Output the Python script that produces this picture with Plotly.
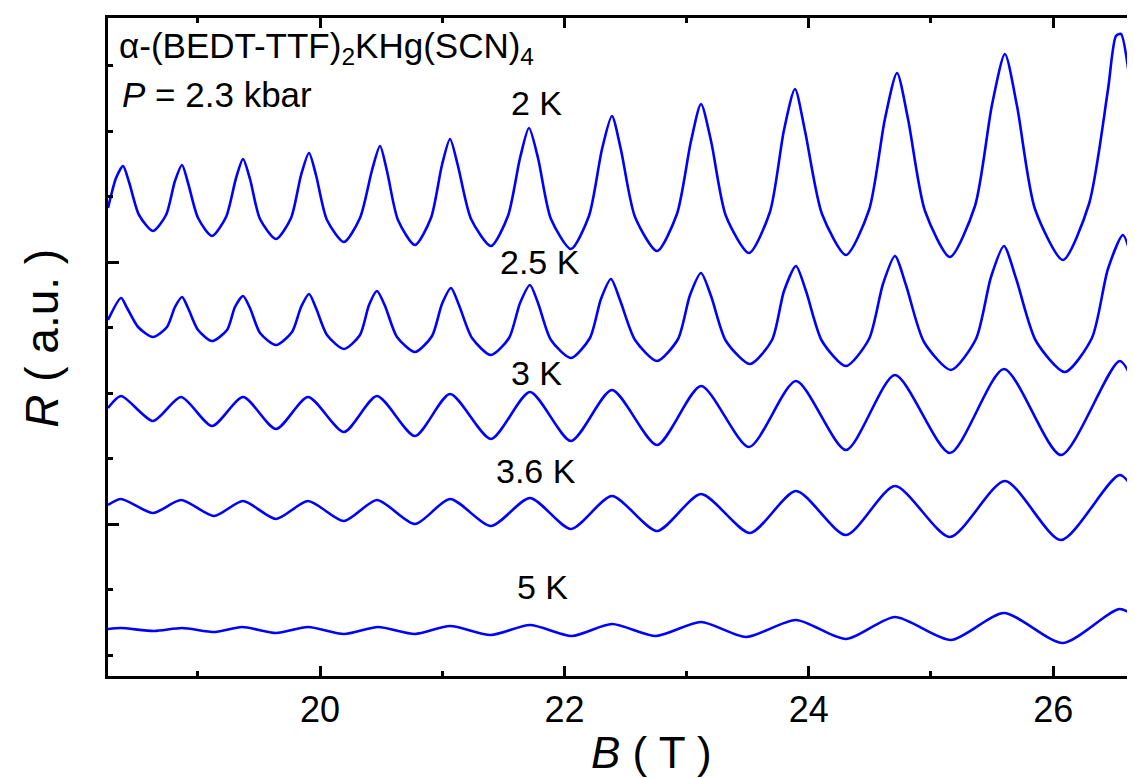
import plotly.graph_objects as go

# ---- data (B in tesla, R in arbitrary units) ----
B_2K = [18.265, 18.331, 18.388, 18.437, 18.519, 18.633, 18.740, 18.813, 18.871, 18.920,
        19.002, 19.116, 19.231, 19.313, 19.370, 19.427, 19.509, 19.640, 19.763, 19.845,
        19.910, 19.967, 20.057, 20.196, 20.327, 20.426, 20.491, 20.548, 20.638, 20.777,
        20.908, 20.998, 21.064, 21.129, 21.236, 21.399, 21.538, 21.637, 21.710, 21.784,
        21.890, 22.054, 22.201, 22.308, 22.389, 22.463, 22.578, 22.758, 22.921, 23.036,
        23.118, 23.200, 23.322, 23.511, 23.682, 23.797, 23.887, 23.969, 24.108, 24.304,
        24.493, 24.623, 24.722, 24.812, 24.951, 25.155, 25.360, 25.499, 25.605, 25.704,
        25.851, 26.080, 26.293, 26.448, 26.514, 26.555, 26.636, 26.669, 26.735]
R_2K = [447, 477, 489, 473, 440, 424, 440, 474, 490, 472,
        437, 419, 438, 477, 496, 476, 436, 416, 437, 480,
        502, 480, 435, 413, 437, 485, 509, 484, 435, 410,
        437, 490, 516, 489, 436, 409, 439, 497, 527, 497,
        436, 406, 439, 506, 539, 505, 438, 404, 441, 514,
        551, 514, 439, 402, 443, 525, 566, 524, 441, 400,
        445, 536, 582, 536, 444, 398, 449, 550, 601, 549,
        446, 395, 451, 565, 619, 621, 565, 519, 472]

B_25K = [18.265, 18.372, 18.421, 18.511, 18.633, 18.748, 18.813, 18.871, 18.920, 19.002,
         19.116, 19.239, 19.304, 19.370, 19.427, 19.509, 19.640, 19.771, 19.845, 19.910,
         19.967, 20.057, 20.196, 20.327, 20.401, 20.466, 20.532, 20.630, 20.777, 20.917,
         20.998, 21.072, 21.137, 21.244, 21.399, 21.547, 21.637, 21.718, 21.784, 21.890,
         22.054, 22.209, 22.299, 22.381, 22.455, 22.578, 22.758, 22.930, 23.028, 23.118,
         23.200, 23.322, 23.519, 23.699, 23.797, 23.895, 23.977, 24.108, 24.304, 24.493,
         24.607, 24.705, 24.795, 24.943, 25.164, 25.368, 25.491, 25.597, 25.695, 25.859,
         26.096, 26.317, 26.448, 26.571, 26.653, 26.735]
R_25K = [335, 357, 347, 328, 318, 328, 348, 358, 347, 325,
         314, 325, 348, 359, 347, 322, 310, 323, 348, 361,
         347, 320, 306, 320, 350, 364, 349, 318, 303, 319,
         351, 367, 350, 317, 300, 317, 352, 370, 352, 315,
         297, 317, 356, 376, 355, 315, 294, 316, 360, 382,
         359, 314, 291, 315, 364, 389, 364, 314, 289, 316,
         371, 399, 370, 313, 285, 316, 378, 409, 377, 314,
         283, 317, 386, 420, 392, 345]

B_3K = [18.265, 18.372, 18.633, 18.863, 19.116, 19.370, 19.640, 19.902, 20.196, 20.466,
        20.777, 21.064, 21.399, 21.718, 22.054, 22.389, 22.758, 23.118, 23.511, 23.895,
        24.304, 24.705, 25.155, 25.597, 26.064, 26.546, 26.735]
R_3K = [247, 259, 234, 258, 229, 258, 226, 258, 223, 259,
        219, 261, 216, 263, 214, 265, 210, 269, 208, 274,
        205, 280, 202, 286, 200, 294, 244]

B_36K = [18.265, 18.372, 18.633, 18.863, 19.133, 19.370, 19.640, 19.902, 20.196, 20.466,
         20.777, 21.064, 21.399, 21.718, 22.054, 22.389, 22.758, 23.118, 23.519, 23.895,
         24.304, 24.705, 25.155, 25.605, 26.064, 26.546, 26.735]
R_36K = [150, 156, 142, 155, 139, 154, 136, 154, 134, 155,
         131, 156, 129, 157, 126, 159, 124, 161, 122, 164,
         120, 169, 118, 174, 115, 180, 149]

B_5K = [18.265, 18.372, 18.642, 18.871, 19.141, 19.362, 19.640, 19.902, 20.196, 20.475,
        20.777, 21.064, 21.399, 21.718, 22.062, 22.389, 22.750, 23.118, 23.486, 23.895,
        24.304, 24.705, 25.164, 25.597, 26.080, 26.546, 26.735]
R_5K = [26, 27, 24, 27, 23, 28, 22, 28, 21, 28,
        21, 29, 20, 30, 19, 31, 19, 33, 18, 35,
        16, 38, 15, 42, 12, 46, 32]

series = [("2 K", B_2K, R_2K), ("2.5 K", B_25K, R_25K), ("3 K", B_3K, R_3K),
          ("3.6 K", B_36K, R_36K), ("5 K", B_5K, R_5K)]

# curve labels: (text, B position, R position)
labels = [("2 K", 21.77, 552), ("2.5 K", 21.80, 393), ("3 K", 21.77, 282),
          ("3.6 K", 21.77, 184), ("5 K", 21.82, 68)]

FONT = "Liberation Sans, Arial, sans-serif"
BLUE = "#0000ff"

fig = go.Figure()
for name, b, r in series:
    fig.add_trace(go.Scatter(x=b, y=r, mode="lines", name=name,
                             line=dict(color=BLUE, width=2.6, shape="spline", smoothing=0.7),
                             showlegend=False, hoverinfo="skip"))

ann = []
for t, bx, ry in labels:
    ann.append(dict(x=bx, y=ry, xref="x", yref="y", text=t, showarrow=False,
                    font=dict(family=FONT, size=34, color="black"),
                    xanchor="center", yanchor="middle"))

ann.append(dict(x=0.0087, y=0.9544, xref="paper", yref="paper",
                text="α-(BEDT-TTF)<sub>2</sub>KHg(SCN)<sub>4</sub>", showarrow=False,
                font=dict(family=FONT, size=35, color="black"),
                xanchor="left", yanchor="middle"))
ann.append(dict(x=0.0116, y=0.883, xref="paper", yref="paper",
                text="<i>P</i> = 2.3 kbar", showarrow=False,
                font=dict(family=FONT, size=35, color="black"),
                xanchor="left", yanchor="middle"))
ann.append(dict(x=0.5256, y=-0.117, xref="paper", yref="paper",
                text="<i>B</i> ( T )", showarrow=False,
                font=dict(family=FONT, size=44, color="black"),
                xanchor="center", yanchor="middle"))
ann.append(dict(x=-0.064, y=0.5137, xref="paper", yref="paper",
                text="<i>R</i> ( a.u. )", showarrow=False, textangle=-90,
                font=dict(family=FONT, size=46, color="black"),
                xanchor="center", yanchor="middle"))

fig.update_layout(
    width=1135, height=778,
    margin=dict(l=100, r=0, t=10, b=110),
    paper_bgcolor="white", plot_bgcolor="white",
    annotations=ann,
    xaxis=dict(range=[18.265, 26.735], showline=True, linewidth=3, linecolor="black",
               mirror="ticks", ticks="inside", ticklen=10, tickwidth=2.5, tickcolor="black",
               tickmode="linear", tick0=0, dtick=2,
               tickfont=dict(family=FONT, size=36, color="black"),
               showgrid=False, zeroline=False,
               minor=dict(ticks="inside", ticklen=5, tickwidth=2.5, tickcolor="black",
                          dtick=1, tick0=0, showgrid=False)),
    yaxis=dict(range=[-21, 637], showline=True, linewidth=3, linecolor="black",
               ticks="inside", ticklen=11, tickwidth=2.5, tickcolor="black",
               tickmode="linear", tick0=131, dtick=262, showticklabels=False,
               showgrid=False, zeroline=False,
               minor=dict(ticks="inside", ticklen=5, tickwidth=2.5, tickcolor="black",
                          tick0=0, dtick=65.5, showgrid=False)),
)

fig.write_html("out.html")
